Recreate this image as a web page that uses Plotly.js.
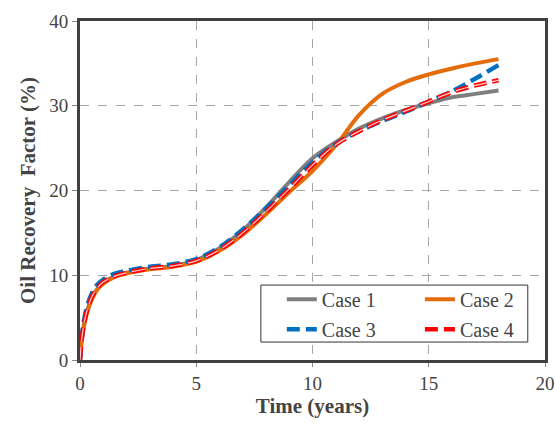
<!DOCTYPE html>
<html>
<head>
<meta charset="utf-8">
<script src="https://cdn.plot.ly/plotly-3.0.1.min.js"></script>
<style>html,body{margin:0;padding:0;background:#fff;}#chart{width:556px;height:427px;}</style>
</head>
<body>
<div id="chart"></div>
<script>
var time = [0, 0.1, 0.25, 0.5, 0.75, 1, 1.5, 2, 3, 4, 5, 6, 7, 8, 9, 10, 11, 12, 13, 14, 15, 16, 17, 18];
var case1 = [0, 3.0, 5.2, 7.3, 8.4, 9.1, 9.9, 10.3, 10.8, 11.1, 11.8, 13.2, 15.3, 18.0, 21.0, 23.8, 25.7, 27.3, 28.5, 29.5, 30.3, 31.0, 31.4, 31.8];
var case2 = [0, 2.8, 5.0, 7.1, 8.3, 9.0, 9.8, 10.2, 10.7, 11.0, 11.6, 12.9, 14.8, 17.2, 19.8, 22.3, 25.3, 28.9, 31.4, 32.8, 33.7, 34.4, 35.0, 35.5];
var case3 = [0, 3.3, 5.7, 7.8, 8.9, 9.5, 10.2, 10.5, 11.0, 11.3, 11.9, 13.3, 15.4, 17.9, 20.6, 23.3, 25.5, 27.0, 28.2, 29.3, 30.5, 31.7, 33.2, 34.8];
var case4 = [0, 3.0, 5.3, 7.4, 8.5, 9.2, 9.9, 10.3, 10.8, 11.1, 11.7, 13.0, 15.0, 17.5, 20.2, 23.0, 25.4, 27.0, 28.3, 29.4, 30.5, 31.6, 32.4, 33.0];
var seriesNames = ['Case 1', 'Case 2', 'Case 3', 'Case 4'];
var xTicks = [0, 5, 10, 15, 20];
var yTicks = [0, 10, 20, 30, 40];

var traces = [
  {x: time, y: case1, name: seriesNames[0], legend: 'legend', mode: 'lines', line: {color: '#7f7f7f', width: 4, shape: 'spline'}},
  {x: time, y: case2, name: seriesNames[1], legend: 'legend2', mode: 'lines', line: {color: '#e46c0a', width: 4, shape: 'spline'}},
  {x: time, y: case3, name: seriesNames[2], legend: 'legend3', mode: 'lines', line: {color: '#0070c0', width: 4.5, dash: '13px,6px', shape: 'spline'}},
  {x: time, y: case4, name: seriesNames[3], legend: 'legend4', mode: 'lines', line: {color: '#ff0000', width: 4.5, dash: '13px,6px', shape: 'spline'}},
  {x: time, y: case4, name: seriesNames[3], showlegend: false, hoverinfo: 'skip', mode: 'lines', line: {color: '#ffd0d0', width: 1.2, dash: '13px,6px', shape: 'spline'}}
];

function legendAt(x, y) {
  return {orientation: 'h', x: x, y: y, xanchor: 'left', yanchor: 'middle',
          bgcolor: 'rgba(0,0,0,0)', borderwidth: 0,
          font: {family: 'Liberation Serif', size: 20}};
}

var layout = {
  width: 556, height: 427,
  margin: {l: 80, r: 11, t: 21, b: 67},
  legend: legendAt(0.434, 0.179),
  legend2: legendAt(0.731, 0.179),
  legend3: legendAt(0.434, 0.091),
  legend4: legendAt(0.731, 0.091),
  shapes: [{type: 'rect', xref: 'paper', yref: 'paper', x0: 0.389, x1: 0.963, y0: 0.053, y1: 0.221,
            line: {color: '#333', width: 1}, fillcolor: '#fff', layer: 'above'}],
  xaxis: {
    range: [0, 20], tickvals: xTicks,
    showgrid: true, gridcolor: '#a6a6a6', griddash: 'dash', gridwidth: 1,
    zeroline: false, showline: true, linecolor: '#404040', linewidth: 3, mirror: true,
    ticks: 'outside', ticklen: 4, tickcolor: '#888',
    tickfont: {family: 'Liberation Serif', size: 19},
    title: {text: '<b>Time (years)</b>', font: {family: 'Liberation Serif', size: 21}, standoff: 6}
  },
  yaxis: {
    range: [0, 40], tickvals: yTicks,
    showgrid: true, gridcolor: '#a6a6a6', griddash: 'dash', gridwidth: 1,
    zeroline: false, showline: true, linecolor: '#404040', linewidth: 3, mirror: true,
    ticks: 'outside', ticklen: 5, tickcolor: '#888',
    tickfont: {family: 'Liberation Serif', size: 19},
    title: {text: '<b>Oil Recovery  Factor (%)</b>', font: {family: 'Liberation Serif', size: 21}, standoff: 8}
  }
};

Plotly.newPlot('chart', traces, layout, {displayModeBar: false, staticPlot: true});
</script>
</body>
</html>
